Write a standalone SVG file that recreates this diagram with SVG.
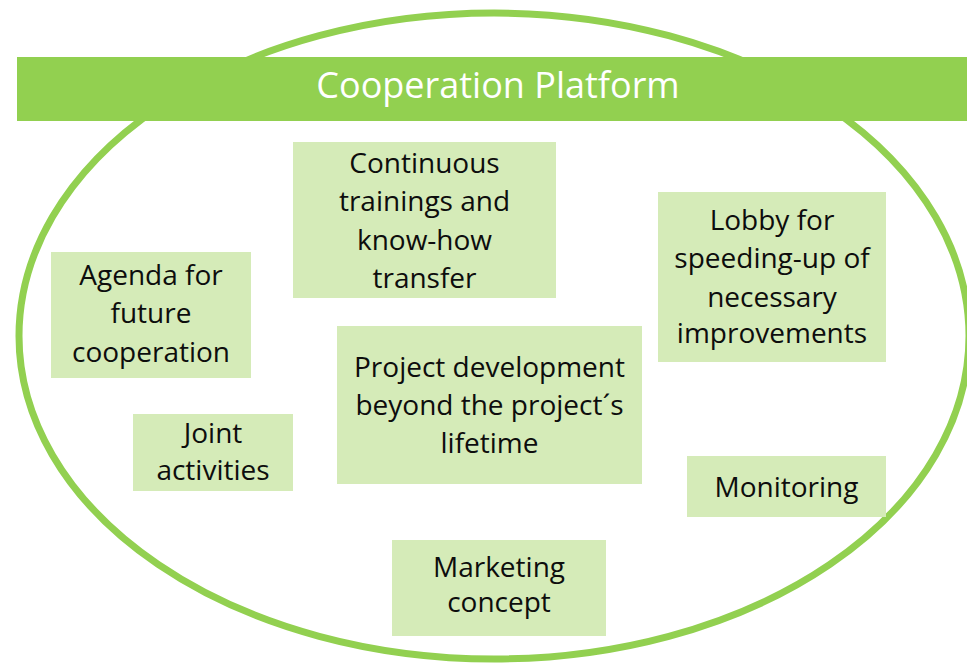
<svg xmlns="http://www.w3.org/2000/svg" width="967" height="668" viewBox="0 0 967 668">
  <style>
    .box { fill: #D5EBB8; }
    .lbl { font-family: "Open Sans", "Liberation Sans", sans-serif; font-size: 28px; fill: #0d0d0d; text-anchor: middle; }
    .title { font-family: "Open Sans", "Liberation Sans", sans-serif; font-size: 36px; fill: #FFFFFF; text-anchor: middle; }
  </style>
  <rect x="0" y="0" width="967" height="668" fill="#FFFFFF"/>
  <g id="platform-outline">
    <ellipse cx="494" cy="336" rx="475" ry="323" fill="none" stroke="#92D050" stroke-width="7"/>
  </g>
  <g id="banner">
    <rect x="17" y="57" width="950" height="64" fill="#92D050"/>
    <text class="title" x="498" y="98">Cooperation Platform</text>
  </g>
  <g id="connectors"></g>
  <g id="node-training">
    <rect class="box" x="293" y="142" width="263" height="156"/>
    <text class="lbl" x="424.5" y="173">Continuous</text>
    <text class="lbl" x="424.5" y="211">trainings and</text>
    <text class="lbl" x="424.5" y="250">know-how</text>
    <text class="lbl" x="424.5" y="288">transfer</text>
  </g>
  <g id="node-agenda">
    <rect class="box" x="51" y="252" width="200" height="126"/>
    <text class="lbl" x="151" y="285">Agenda for</text>
    <text class="lbl" x="151" y="323">future</text>
    <text class="lbl" x="151" y="362">cooperation</text>
  </g>
  <g id="node-joint">
    <rect class="box" x="133" y="414" width="160" height="77"/>
    <text class="lbl" x="213" y="443">Joint</text>
    <text class="lbl" x="213" y="480">activities</text>
  </g>
  <g id="node-lobby">
    <rect class="box" x="658" y="192" width="228" height="170"/>
    <text class="lbl" x="772" y="230">Lobby for</text>
    <text class="lbl" x="772" y="268">speeding-up of</text>
    <text class="lbl" x="772" y="307">necessary</text>
    <text class="lbl" x="772" y="343">improvements</text>
  </g>
  <g id="node-project">
    <rect class="box" x="337" y="326" width="305" height="158"/>
    <text class="lbl" x="489.5" y="377">Project development</text>
    <text class="lbl" x="489.5" y="415">beyond the project´s</text>
    <text class="lbl" x="489.5" y="453">lifetime</text>
  </g>
  <g id="node-monitoring">
    <rect class="box" x="687" y="456" width="199" height="61"/>
    <text class="lbl" x="786.5" y="497">Monitoring</text>
  </g>
  <g id="node-marketing">
    <rect class="box" x="392" y="540" width="214" height="96"/>
    <text class="lbl" x="499" y="577">Marketing</text>
    <text class="lbl" x="499" y="612">concept</text>
  </g>
</svg>
